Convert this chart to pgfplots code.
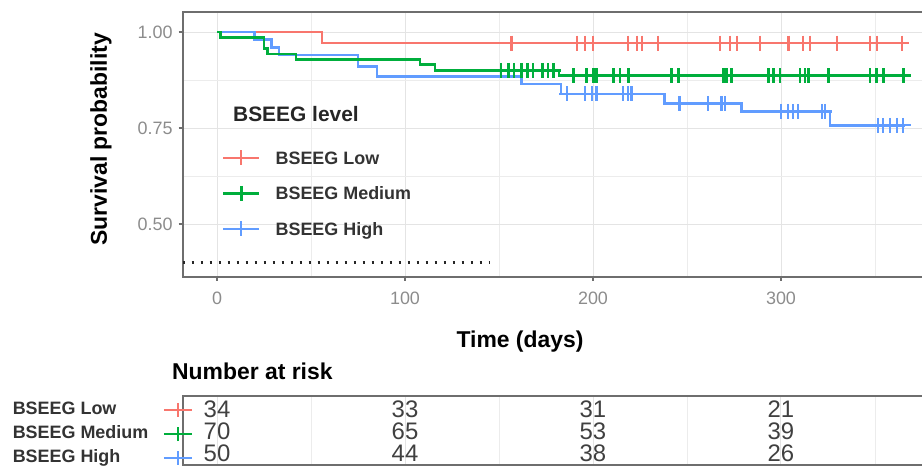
\documentclass[border=0pt]{standalone}
\usepackage{fontspec}
\setmainfont{Liberation Sans}
\usepackage{pgfplots}
\pgfplotsset{compat=1.18}
\definecolor{cLow}{HTML}{F8766D}
\definecolor{cMed}{HTML}{00AE3C}
\definecolor{cHigh}{HTML}{619CFF}
\definecolor{frameg}{HTML}{6E6E6E}
\definecolor{gridg}{HTML}{E4E4E4}
\definecolor{tickg}{HTML}{8C8C8C}
\newcommand{\rkey}[1]{\tikz[baseline=-0.5ex]{\draw[#1,line width=2bp] (0,0)--(28bp,0) (14bp,-7bp)--(14bp,7bp);}}
\begin{document}
\begin{tikzpicture}
\useasboundingbox (0,0) rectangle (922bp,469bp);
\clip (0,0) rectangle (922bp,469bp);
\begin{axis}[
  at={(182.7bp,192bp)}, anchor=south west,
  scale only axis, width=754.8bp, height=264.96bp,
  xmin=-18.25, xmax=383.25, ymin=0.362, ymax=1.052,
  axis line style={draw=frameg, line width=1.6bp},
  xtick={0,100,200,300}, xticklabels={0,100,200,300},
  ytick={0.5,0.75,1}, yticklabels={0.50,0.75,1.00},
  minor xtick={50,150,250,350}, minor ytick={0.625,0.875},
  grid=both,
  major grid style={draw=gridg, line width=1bp},
  minor grid style={draw=gridg!70, line width=0.7bp},
  tick align=outside, major tick length=4bp, minor tick length=0pt,
  tick style={draw=frameg, line width=1.2bp},
  xtick pos=bottom, ytick pos=left,
  ticklabel style={font=\fontsize{18}{18}\selectfont, text=tickg, inner sep=0pt},
  xticklabel style={anchor=north, yshift=-11bp},
  yticklabel style={anchor=east, xshift=-6bp},
  every axis y label/.style={at={(axis description cs:-0.1082,0.52)}, rotate=90, anchor=center, font=\fontsize{23}{23}\selectfont\bfseries},
  every axis x label/.style={at={(axis description cs:0.4469,-0.2453)}, anchor=center, font=\fontsize{23}{23}\selectfont\bfseries},
  ylabel={Survival probability},
  xlabel={Time (days)},
  legend style={at={(axis cs:2.66,0.692)}, anchor=north west,
    draw=none, fill=none, inner sep=0pt, outer sep=0pt,
    font=\fontsize{18}{18}\selectfont\bfseries, text=black!80,
    row sep=20.5bp, column sep=15bp,
    nodes={inner sep=0pt, text height=13pt, text depth=0pt}},
  legend cell align=left,
  legend image code/.code={\draw[mark repeat=2,mark phase=2,#1] plot coordinates {(0bp,0bp)(18bp,0bp)(36bp,0bp)};},
]
\addlegendimage{cLow, line width=2.4bp, mark=+, mark size=7.5bp, mark options={line width=2.2bp}}
\addlegendentry{BSEEG Low}
\addlegendimage{cMed, line width=2.6bp, mark=+, mark size=7.5bp, mark options={line width=2.6bp}}
\addlegendentry{BSEEG Medium}
\addlegendimage{cHigh, line width=2.4bp, mark=+, mark size=7.5bp, mark options={line width=2.2bp}}
\addlegendentry{BSEEG High}
% dotted line
\addplot[black!85, line width=2.5bp, dash pattern=on 2.5bp off 6.5bp, forget plot] coordinates {(-18.25,0.4) (145,0.4)};
% Low
\addplot[cLow, line width=2.4bp, const plot, forget plot] coordinates {(0,1) (56,0.971) (366,0.971)};
\addplot[cLow, only marks, mark=+, mark size=7.5bp, mark options={line width=2.2bp}, forget plot] coordinates {
(156.6,0.971) (191.3,0.971) (195.7,0.971) (200.2,0.971) (218.8,0.971) (223.2,0.971) (225.9,0.971) (234.7,0.971)
(267.6,0.971) (273,0.971) (276.5,0.971) (288.9,0.971) (304,0.971) (311.9,0.971) (315.5,0.971) (329.7,0.971)
(347.3,0.971) (350.9,0.971) (364.2,0.971)};
% High
\addplot[cHigh, line width=2.4bp, const plot, forget plot] coordinates {(0,1) (20,0.98) (29,0.96) (33,0.94) (75,0.91) (85,0.884) (162,0.865) (183,0.839) (238,0.814) (279,0.793) (326,0.757) (366,0.757)};
\addplot[cHigh, only marks, mark=+, mark size=7.5bp, mark options={line width=2.2bp}, forget plot] coordinates {
(186,0.839) (195.7,0.839) (199.3,0.839) (201.9,0.839) (216,0.839) (218.7,0.839) (220.5,0.839)
(246,0.814) (261,0.814) (268.4,0.814) (270.2,0.814)
(300,0.793) (303.9,0.793) (306.5,0.793) (309.2,0.793) (321.6,0.793) (323.4,0.793)
(351.7,0.757) (354.4,0.757) (358,0.757) (361.5,0.757) (365,0.757)};
% Medium
\addplot[cMed, line width=2.6bp, const plot, forget plot] coordinates {(0,1) (2,0.986) (25,0.957) (27,0.943) (42,0.929) (108,0.915) (116,0.900) (182,0.886) (366,0.886)};
\addplot[cMed, only marks, mark=+, mark size=7.5bp, mark options={line width=2.6bp}, forget plot] coordinates {
(151,0.9) (155,0.9) (158,0.9) (162,0.9) (165,0.9) (168,0.9) (173,0.9) (176,0.9) (179,0.9)
(189.5,0.886) (196.6,0.886) (200.2,0.886) (201.9,0.886) (210.8,0.886) (214.4,0.886) (218.8,0.886)
(241.9,0.886) (245.4,0.886) (269.3,0.886) (271.1,0.886) (273.8,0.886) (293.3,0.886) (296,0.886)
(299.5,0.886) (310.1,0.886) (312.8,0.886) (314.5,0.886) (325.2,0.886) (347.3,0.886) (350.9,0.886)
(354.4,0.886) (365.1,0.886)};
\node[anchor=base west, inner sep=0pt, font=\fontsize{21}{21}\selectfont\bfseries, text=black!85] at (axis cs:8.5,0.766) {BSEEG level};
\end{axis}

\begin{axis}[
  at={(182.7bp,4bp)}, anchor=south west,
  scale only axis, width=754.8bp, height=69bp,
  xmin=-18.25, xmax=383.25, ymin=0.4545, ymax=3.591,
  axis line style={draw=frameg, line width=1.6bp},
  xtick={0,100,200,300}, xticklabels={}, minor xtick={50,150,250,350},
  xmajorgrids, xminorgrids,
  major grid style={draw=gridg, line width=1bp},
  minor grid style={draw=gridg!70, line width=0.7bp},
  major tick length=0pt, minor tick length=0pt,
  ytick={0.773,1.864,2.955},
  yticklabels={{\makebox[150bp][l]{BSEEG High}\rkey{cHigh}},{\makebox[150bp][l]{BSEEG Medium}\rkey{cMed}},{\makebox[150bp][l]{BSEEG Low}\rkey{cLow}}},
  yticklabel style={anchor=east, inner sep=0pt, xshift=10.3bp, font=\fontsize{18}{18}\selectfont\bfseries, text=black!80},
  title={Number at risk},
  title style={at={(axis description cs:-0.0142,1.159)}, anchor=base west, inner sep=0pt, font=\fontsize{23}{23}\selectfont\bfseries},
  point meta=explicit symbolic,
  nodes near coords,
  nodes near coords style={anchor=center, font=\fontsize{24}{24}\selectfont, text=black!75, inner sep=0pt},
]
\addplot[draw=none, mark=none] coordinates {(0,3)[34] (100,3)[33] (200,3)[31] (300,3)[21]};
\addplot[draw=none, mark=none] coordinates {(0,2)[70] (100,2)[65] (200,2)[53] (300,2)[39]};
\addplot[draw=none, mark=none] coordinates {(0,1)[50] (100,1)[44] (200,1)[38] (300,1)[26]};
\end{axis}
\end{tikzpicture}
\end{document}
